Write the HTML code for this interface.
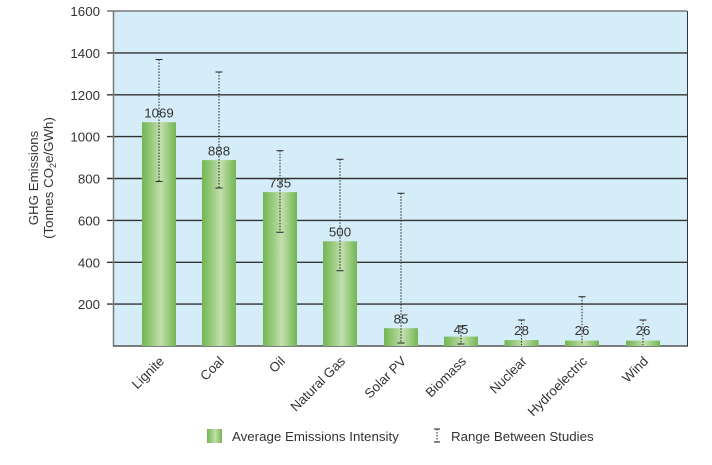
<!DOCTYPE html>
<html><head><meta charset="utf-8"><style>
html,body{margin:0;padding:0;background:#fff;}
svg{display:block;font-family:"Liberation Sans",Arial,sans-serif;}
</style></head><body>
<svg width="712" height="465" viewBox="0 0 712 465" xmlns="http://www.w3.org/2000/svg">
<defs>
<linearGradient id="g" x1="0" y1="0" x2="1" y2="0">
<stop offset="0" stop-color="#74b556"/>
<stop offset="0.2" stop-color="#8cc46f"/>
<stop offset="0.55" stop-color="#c2dfae"/>
<stop offset="0.85" stop-color="#8cc46f"/>
<stop offset="1" stop-color="#74b556"/>
</linearGradient>
</defs>
<rect x="113.5" y="11" width="574" height="335" fill="#d5edf8"/>
<g stroke="#333" stroke-width="1.4">
<line x1="107" y1="11" x2="687" y2="11" stroke="#777"/>
<line x1="107" y1="52.9" x2="687" y2="52.9"/>
<line x1="107" y1="94.8" x2="687" y2="94.8"/>
<line x1="107" y1="136.6" x2="687" y2="136.6"/>
<line x1="107" y1="178.5" x2="687" y2="178.5"/>
<line x1="107" y1="220.4" x2="687" y2="220.4"/>
<line x1="107" y1="262.3" x2="687" y2="262.3"/>
<line x1="107" y1="304.1" x2="687" y2="304.1"/>
</g>
<line x1="113.5" y1="11" x2="113.5" y2="346" stroke="#777" stroke-width="1.5"/>
<line x1="113" y1="346" x2="688" y2="346" stroke="#555" stroke-width="1.5"/>
<line x1="687.5" y1="11" x2="687.5" y2="346" stroke="#333" stroke-width="1"/>
<g font-size="13.3" fill="#333" text-anchor="end">
<text x="100" y="16">1600</text>
<text x="100" y="57.9">1400</text>
<text x="100" y="99.8">1200</text>
<text x="100" y="141.6">1000</text>
<text x="100" y="183.5">800</text>
<text x="100" y="225.4">600</text>
<text x="100" y="267.3">400</text>
<text x="100" y="309.1">200</text>
</g>
<g font-size="13.3" fill="#333" text-anchor="middle">
<text transform="translate(38,178) rotate(-90)">GHG Emissions</text>
<text transform="translate(53,178) rotate(-90)">(Tonnes CO<tspan font-size="9" dy="3">2</tspan><tspan dy="-3">e/GWh)</tspan></text>
</g>
<g fill="url(#g)">
<rect x="142" y="122.2" width="34" height="223.8"/>
<rect x="202" y="160.1" width="34" height="185.9"/>
<rect x="263" y="192.1" width="34" height="153.9"/>
<rect x="323" y="241.3" width="34" height="104.7"/>
<rect x="384" y="328.2" width="34" height="17.8"/>
<rect x="444" y="336.6" width="34" height="9.4"/>
<rect x="504.5" y="340.1" width="34" height="5.9"/>
<rect x="565" y="340.6" width="34" height="5.4"/>
<rect x="626" y="340.6" width="34" height="5.4"/>
</g>
<g font-size="13.3" fill="#333" text-anchor="middle">
<text x="159" y="117.5">1069</text>
<text x="219" y="155.5">888</text>
<text x="280" y="187.5">735</text>
<text x="340" y="236.5">500</text>
<text x="401" y="323.5">85</text>
<text x="461" y="334">45</text>
<text x="521.5" y="335">28</text>
<text x="582" y="335">26</text>
<text x="643" y="335">26</text>
</g>
<g stroke="#333" stroke-width="1.1">
<g stroke-dasharray="1.5,1.5">
<line x1="159" y1="59.5" x2="159" y2="181.5"/>
<line x1="219" y1="72" x2="219" y2="188"/>
<line x1="280" y1="150.7" x2="280" y2="232.3"/>
<line x1="340" y1="159.3" x2="340" y2="270.7"/>
<line x1="401" y1="193.3" x2="401" y2="343"/>
<line x1="461" y1="326" x2="461" y2="344"/>
<line x1="521.5" y1="320" x2="521.5" y2="345"/>
<line x1="582" y1="296.7" x2="582" y2="345"/>
<line x1="643" y1="320" x2="643" y2="345"/>
</g>
<line x1="155.5" y1="59.5" x2="162.5" y2="59.5"/><line x1="155.5" y1="181.5" x2="162.5" y2="181.5"/>
<line x1="215.5" y1="72" x2="222.5" y2="72"/><line x1="215.5" y1="188" x2="222.5" y2="188"/>
<line x1="276.5" y1="150.7" x2="283.5" y2="150.7"/><line x1="276.5" y1="232.3" x2="283.5" y2="232.3"/>
<line x1="336.5" y1="159.3" x2="343.5" y2="159.3"/><line x1="336.5" y1="270.7" x2="343.5" y2="270.7"/>
<line x1="397.5" y1="193.3" x2="404.5" y2="193.3"/><line x1="397.5" y1="343" x2="404.5" y2="343"/>
<line x1="457.5" y1="326" x2="464.5" y2="326"/><line x1="457.5" y1="344" x2="464.5" y2="344"/>
<line x1="518" y1="320" x2="525" y2="320"/>
<line x1="578.5" y1="296.7" x2="585.5" y2="296.7"/>
<line x1="639.5" y1="320" x2="646.5" y2="320"/>
</g>
<g font-size="13.3" fill="#333" text-anchor="end">
<text transform="translate(165,362) rotate(-45)">Lignite</text>
<text transform="translate(225,362) rotate(-45)">Coal</text>
<text transform="translate(286,362) rotate(-45)">Oil</text>
<text transform="translate(346,362) rotate(-45)">Natural Gas</text>
<text transform="translate(407,362) rotate(-45)">Solar PV</text>
<text transform="translate(467,362) rotate(-45)">Biomass</text>
<text transform="translate(527.5,362) rotate(-45)">Nuclear</text>
<text transform="translate(588,362) rotate(-45)">Hydroelectric</text>
<text transform="translate(649,362) rotate(-45)">Wind</text>
</g>
<rect x="207" y="429" width="15" height="14" fill="url(#g)"/>
<text x="232" y="441" font-size="13.3" fill="#333">Average Emissions Intensity</text>
<g stroke="#333" stroke-width="1.1">
<line x1="437" y1="429" x2="437" y2="442" stroke-dasharray="1.5,1.5"/>
<line x1="434" y1="429" x2="440" y2="429"/>
<line x1="434" y1="442" x2="440" y2="442"/>
</g>
<text x="451" y="441" font-size="13.3" fill="#333">Range Between Studies</text>
</svg>
</body></html>
